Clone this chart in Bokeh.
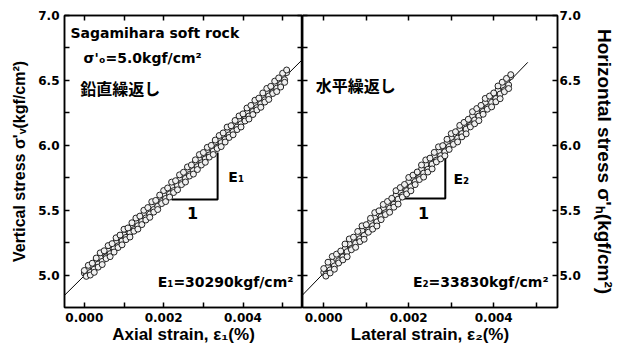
from bokeh.plotting import figure
from bokeh.layouts import row
from bokeh.models import Range1d, LinearAxis, FixedTicker, Label, NumeralTickFormatter
from bokeh.embed import file_html
from bokeh.resources import INLINE

FONT = "DejaVu Sans"
AXFONT = "Liberation Sans"
CJK = "Noto Sans CJK JP"

# ---------------- data (strain in %, stress in kgf/cm2) ----------------
x_ticks = [0.000, 0.002, 0.004]
x_minor = [0.001, 0.003, 0.005]
y_ticks = [5.0, 5.5, 6.0, 6.5, 7.0]
y_minor = [5.25, 5.75, 6.25, 6.75]

# vertical loading: axial strain vs vertical stress
axial_load_x = [0.0000, 0.0001, 0.0002, 0.0003, 0.0004, 0.0005, 0.0006, 0.0007, 0.0008, 0.0009,
                0.0010, 0.0011, 0.0012, 0.0013, 0.0014, 0.0015, 0.0016, 0.0017, 0.0018, 0.0019,
                0.0020, 0.0021, 0.0022, 0.0023, 0.0024, 0.0025, 0.0026, 0.0027, 0.0028, 0.0029,
                0.0030, 0.0031, 0.0032, 0.0033, 0.0034, 0.0035, 0.0036, 0.0037, 0.0038, 0.0039,
                0.0040, 0.0041, 0.0042, 0.0043, 0.0044, 0.0045, 0.0046, 0.0047, 0.0048, 0.0049,
                0.0050, 0.0051]
axial_load_y = [5.015, 5.050, 5.068, 5.110, 5.133, 5.175, 5.185, 5.230, 5.255, 5.295,
                5.310, 5.355, 5.380, 5.405, 5.445, 5.470, 5.495, 5.535, 5.560, 5.585,
                5.625, 5.650, 5.680, 5.720, 5.738, 5.778, 5.805, 5.830, 5.868, 5.890,
                5.930, 5.955, 5.980, 6.020, 6.042, 6.080, 6.105, 6.135, 6.170, 6.195,
                6.230, 6.255, 6.290, 6.318, 6.345, 6.380, 6.405, 6.440, 6.468, 6.500,
                6.530, 6.560]
axial_load2_y = [5.035, 5.075, 5.091, 5.131, 5.171, 5.187, 5.227, 5.242, 5.287, 5.308,
                 5.353, 5.363, 5.403, 5.439, 5.454, 5.499, 5.520, 5.565, 5.575, 5.616,
                 5.651, 5.671, 5.716, 5.727, 5.772, 5.792, 5.833, 5.848, 5.888, 5.928,
                 5.944, 5.984, 5.999, 6.040, 6.075, 6.095, 6.140, 6.151, 6.191, 6.226,
                 6.242, 6.287, 6.307, 6.347, 6.363, 6.403, 6.438, 6.454, 6.494, 6.519,
                 6.555, 6.580]
axial_unload_x = [0.00005, 0.00015, 0.00025, 0.00035, 0.00045, 0.00055, 0.00065, 0.00075, 0.00085, 0.00095,
                  0.00105, 0.00115, 0.00125, 0.00135, 0.00145, 0.00155, 0.00165, 0.00175, 0.00185, 0.00195,
                  0.00205, 0.00215, 0.00225, 0.00235, 0.00245, 0.00255, 0.00265, 0.00275, 0.00285, 0.00295,
                  0.00305, 0.00315, 0.00325, 0.00335, 0.00345, 0.00355, 0.00365, 0.00375, 0.00385, 0.00395,
                  0.00405, 0.00415, 0.00425, 0.00435, 0.00445, 0.00455, 0.00465, 0.00475, 0.00485, 0.00495,
                  0.00505]
axial_unload_y = [5.000, 5.020, 5.045, 5.085, 5.105, 5.140, 5.165, 5.205, 5.225, 5.262,
                  5.290, 5.325, 5.350, 5.380, 5.415, 5.440, 5.470, 5.505, 5.530, 5.565,
                  5.590, 5.625, 5.650, 5.690, 5.710, 5.745, 5.775, 5.805, 5.835, 5.865,
                  5.895, 5.925, 5.955, 5.985, 6.020, 6.045, 6.080, 6.105, 6.140, 6.165,
                  6.200, 6.225, 6.260, 6.290, 6.320, 6.350, 6.380, 6.410, 6.440, 6.470,
                  6.505]
axial_unload2_y = [4.990, 5.000, 5.021, 5.061, 5.081, 5.127, 5.142, 5.177, 5.212, 5.233,
                   5.273, 5.293, 5.338, 5.354, 5.389, 5.424, 5.445, 5.485, 5.505, 5.551,
                   5.566, 5.601, 5.636, 5.657, 5.697, 5.717, 5.763, 5.778, 5.813, 5.848,
                   5.869, 5.909, 5.929, 5.975, 5.990, 6.025, 6.060, 6.081, 6.121, 6.141,
                   6.187, 6.202, 6.237, 6.272, 6.293, 6.333, 6.353, 6.399, 6.414, 6.449,
                   6.485]

# horizontal loading: lateral strain vs horizontal stress
lat_load_x = [0.0000, 0.0001, 0.0002, 0.0003, 0.0004, 0.0005, 0.0006, 0.0007, 0.0008, 0.0009,
              0.0010, 0.0011, 0.0012, 0.0013, 0.0014, 0.0015, 0.0016, 0.0017, 0.0018, 0.0019,
              0.0020, 0.0021, 0.0022, 0.0023, 0.0024, 0.0025, 0.0026, 0.0027, 0.0028, 0.0029,
              0.0030, 0.0031, 0.0032, 0.0033, 0.0034, 0.0035, 0.0036, 0.0037, 0.0038, 0.0039,
              0.0040, 0.0041, 0.0042, 0.0043, 0.0044]
lat_load_y = [5.020, 5.060, 5.100, 5.125, 5.175, 5.200, 5.240, 5.275, 5.300, 5.345,
              5.370, 5.410, 5.445, 5.470, 5.515, 5.545, 5.575, 5.615, 5.640, 5.685,
              5.720, 5.745, 5.790, 5.815, 5.850, 5.890, 5.915, 5.955, 5.990, 6.020,
              6.060, 6.085, 6.125, 6.160, 6.185, 6.225, 6.255, 6.290, 6.330, 6.355,
              6.395, 6.425, 6.460, 6.495, 6.530]
lat_load2_y = [5.050, 5.099, 5.143, 5.161, 5.185, 5.239, 5.278, 5.292, 5.336, 5.379,
               5.388, 5.437, 5.481, 5.495, 5.544, 5.567, 5.591, 5.650, 5.674, 5.698,
               5.752, 5.770, 5.794, 5.848, 5.887, 5.901, 5.945, 5.988, 5.997, 6.046,
               6.090, 6.104, 6.153, 6.176, 6.200, 6.259, 6.283, 6.307, 6.361, 6.379,
               6.403, 6.457, 6.486, 6.515, 6.544]
lat_unload_x = [0.00005, 0.00015, 0.00025, 0.00035, 0.00045, 0.00055, 0.00065, 0.00075, 0.00085, 0.00095,
                0.00105, 0.00115, 0.00125, 0.00135, 0.00145, 0.00155, 0.00165, 0.00175, 0.00185, 0.00195,
                0.00205, 0.00215, 0.00225, 0.00235, 0.00245, 0.00255, 0.00265, 0.00275, 0.00285, 0.00295,
                0.00305, 0.00315, 0.00325, 0.00335, 0.00345, 0.00355, 0.00365, 0.00375, 0.00385, 0.00395,
                0.00405, 0.00415, 0.00425, 0.00435]
lat_unload_y = [5.005, 5.040, 5.070, 5.110, 5.140, 5.180, 5.205, 5.245, 5.280, 5.305,
                5.345, 5.380, 5.410, 5.450, 5.480, 5.515, 5.545, 5.585, 5.615, 5.650,
                5.680, 5.720, 5.750, 5.785, 5.815, 5.855, 5.885, 5.920, 5.950, 5.990,
                6.020, 6.055, 6.090, 6.125, 6.155, 6.195, 6.225, 6.260, 6.290, 6.330,
                6.360, 6.395, 6.425, 6.465]
lat_unload2_y = [4.992, 5.016, 5.045, 5.093, 5.117, 5.141, 5.195, 5.214, 5.258, 5.276,
                 5.330, 5.354, 5.378, 5.427, 5.466, 5.484, 5.523, 5.547, 5.601, 5.625,
                 5.649, 5.697, 5.736, 5.755, 5.794, 5.818, 5.872, 5.895, 5.919, 5.968,
                 6.007, 6.026, 6.065, 6.088, 6.142, 6.166, 6.190, 6.239, 6.278, 6.296,
                 6.335, 6.359, 6.413, 6.437]

# fitted lines (E1 = 30290, E2 = 33830 kgf/cm2)
fit1_x = [-0.0005, 0.0055]
fit1_y = [4.844, 6.661]
fit2_x = [-0.0005, 0.0048]
fit2_y = [4.846, 6.639]

# slope triangles
tri1_x = [0.0022, 0.00336, 0.00336]
tri1_y = [5.582, 5.582, 5.944]
tri2_x = [0.00185, 0.00286, 0.00286]
tri2_y = [5.590, 5.590, 5.944]


def style_axis(ax, ticks, minor, fmt, labels=True):
    if labels:
        ax.ticker = FixedTicker(ticks=ticks, minor_ticks=minor)
        ax.formatter = NumeralTickFormatter(format=fmt)
    else:
        ax.ticker = FixedTicker(ticks=[], minor_ticks=sorted(ticks + minor))
        ax.major_label_standoff = 0
    ax.major_tick_in = 5
    ax.major_tick_out = 0
    ax.minor_tick_in = 5
    ax.minor_tick_out = 0
    ax.axis_line_width = 1.5
    ax.major_tick_line_width = 1.5
    ax.minor_tick_line_width = 1.5
    ax.axis_line_color = "black"
    ax.major_tick_line_color = "black"
    ax.minor_tick_line_color = "black"
    ax.major_label_text_font = FONT
    ax.major_label_text_font_style = "bold"
    ax.major_label_text_font_size = "12px"
    ax.major_label_text_color = "black"
    ax.axis_label_text_font = AXFONT
    ax.axis_label_text_font_style = "bold"
    ax.axis_label_text_font_size = "17px"
    ax.axis_label_text_color = "black"


def make_panel(frame_w, border_l, border_r, ylab_side):
    p = figure(frame_width=frame_w, frame_height=292,
               x_range=Range1d(-0.0005, 0.0055), y_range=Range1d(4.75, 7.0),
               output_backend="svg", toolbar_location=None,
               x_axis_location=None, y_axis_location=None,
               min_border_left=border_l, min_border_right=border_r,
               min_border_top=15, min_border_bottom=40)
    p.grid.visible = False
    p.outline_line_color = "black"
    p.outline_line_width = 1.5
    p.background_fill_color = "white"
    p.border_fill_color = "white"

    xb = LinearAxis()
    style_axis(xb, x_ticks, x_minor, "0.000")
    xb.major_label_standoff = 5
    xb.axis_label_standoff = 0
    p.add_layout(xb, "below")
    xt = LinearAxis()
    style_axis(xt, x_ticks, x_minor, "0.000", labels=False)
    p.add_layout(xt, "above")

    yl = LinearAxis()
    yr = LinearAxis()
    style_axis(yl, y_ticks, y_minor, "0.0", labels=(ylab_side == "left"))
    style_axis(yr, y_ticks, y_minor, "0.0", labels=(ylab_side == "right"))
    p.add_layout(yl, "left")
    p.add_layout(yr, "right")
    return p, xb, yl, yr


def label(p, x, y, text, size="14px", align="left", baseline="middle", font=FONT):
    p.add_layout(Label(x=x, y=y, text=text, text_font=font, text_font_size=size,
                       text_font_style="bold", text_align=align, text_baseline=baseline,
                       text_color="black"))


def dots(p, xs, ys):
    p.scatter(xs, ys, size=6, marker="circle", fill_color="#f0f0f0",
              line_color="#222222", line_width=1)


# ---------------- left panel ----------------
p1, xb1, yl1, yr1 = make_panel(238, 64, 0, "left")
xb1.axis_label = "Axial strain, ε₁(%)"
yl1.axis_label = "Vertical stress σ'ᵥ(kgf/cm²)"
yl1.axis_label_text_font_size = "16px"
yl1.axis_label_standoff = 7

p1.line(fit1_x, fit1_y, line_color="black", line_width=1)
p1.line(tri1_x, tri1_y, line_color="black", line_width=2)
dots(p1, axial_load_x, axial_load_y)
dots(p1, axial_unload_x, axial_unload_y)
dots(p1, axial_load_x, axial_load2_y)
dots(p1, axial_unload_x, axial_unload2_y)

label(p1, -0.00035, 6.869, "Sagamihara soft rock")
label(p1, -0.00002, 6.676, "σ'ₒ=5.0kgf/cm²")
label(p1, -0.0001, 6.445, "鉛直繰返し", size="16px", font=CJK)
label(p1, 0.00363, 5.752, "E₁")
label(p1, 0.00273, 5.482, "1", size="16px", align="center")
label(p1, 0.00527, 4.943, "E₁=30290kgf/cm²", align="right")

# ---------------- right panel ----------------
p2, xb2, yl2, yr2 = make_panel(255, 0, 56, "right")
xb2.axis_label = "Lateral strain, ε₂(%)"
yr2.axis_label = "Horizontal stress σ'ₕ(kgf/cm²)"
yr2.axis_label_text_font_size = "19px"
yr2.axis_label_standoff = 10
yr2.major_label_standoff = 2

p2.line(fit2_x, fit2_y, line_color="black", line_width=1)
p2.line(tri2_x, tri2_y, line_color="black", line_width=2)
dots(p2, lat_load_x, lat_load_y)
dots(p2, lat_unload_x, lat_unload_y)
dots(p2, lat_load_x, lat_load2_y)
dots(p2, lat_unload_x, lat_unload2_y)

label(p2, -0.00019, 6.461, "水平繰返し", size="16px", font=CJK)
label(p2, 0.00305, 5.744, "E₂")
label(p2, 0.00235, 5.482, "1", size="16px", align="center")
label(p2, 0.00529, 4.943, "E₂=33830kgf/cm²", align="right")

layout = row(p1, p2)
open("out.html", "w").write(file_html(layout, INLINE))
